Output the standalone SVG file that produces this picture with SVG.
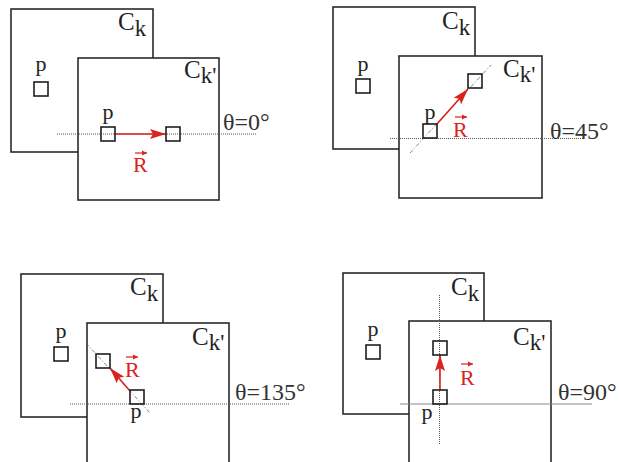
<svg xmlns="http://www.w3.org/2000/svg" width="619" height="462" viewBox="0 0 619 462">
<defs>
<style>
.frame{fill:#fff;stroke:#2a2a2a;stroke-width:1.6}
.cell{fill:none;stroke:#1e1e1e;stroke-width:1.6}
.dot{fill:none;stroke:#555;stroke-width:1;stroke-dasharray:1 1}
.dash{fill:none;stroke:#666;stroke-width:0.8;stroke-dasharray:4 2 1 2}
.solid{fill:none;stroke:#888;stroke-width:1}
.vec{fill:none;stroke:#d9231d;stroke-width:1.6;marker-end:url(#head)}
.vsm{fill:none;stroke:#d9231d;stroke-width:1.2;marker-end:url(#shead)}
text{font-family:"Liberation Serif","Times New Roman",serif;fill:#222}
.lbl{font-size:25px}
.sub{font-size:23px}
.p{font-size:22px;text-anchor:middle}
.r{font-size:22px;fill:#d9231d}
.ang{font-size:24px;fill:#333}
</style>
<marker id="head" markerUnits="userSpaceOnUse" markerWidth="17" markerHeight="11" refX="16" refY="5" orient="auto" overflow="visible">
<path d="M0,0 L16,5 L0,10 L3,5 z" fill="#d9231d"/>
</marker>
<marker id="shead" markerUnits="userSpaceOnUse" markerWidth="6" markerHeight="5" refX="5" refY="2.5" orient="auto" overflow="visible">
<path d="M0,0 L5,2.5 L0,5 z" fill="#d9231d"/>
</marker>
</defs>

<!-- Panel 1: theta = 0 -->
<g id="p1-ck"><rect class="frame" x="11" y="9" width="142" height="143"/>
<text class="lbl" x="118" y="30">C<tspan class="sub" dy="6">k</tspan></text></g>
<g id="p1-ckp"><rect class="frame" x="78" y="58" width="141" height="142"/>
<text class="lbl" x="184" y="78">C<tspan class="sub" dy="5">k'</tspan></text></g>
<g id="p1-pback"><rect class="cell" x="34" y="82" width="14" height="14"/><text class="p" x="41" y="71">p</text></g>
<g id="p1-connectors">
<line class="dot" x1="57" y1="134" x2="257" y2="134"/>
<line class="vec" x1="115" y1="134" x2="166" y2="134"/>
</g>
<g id="p1-pstart"><rect class="cell" x="101" y="127" width="14" height="14"/><text class="p" x="108" y="119">p</text></g>
<g id="p1-pend"><rect class="cell" x="166" y="127" width="14" height="14"/></g>
<g id="p1-r"><text class="r" x="133" y="172">R</text><line class="vsm" x1="135" y1="153" x2="147" y2="153"/></g>
<text class="ang" x="223" y="130">θ=0°</text>

<!-- Panel 2: theta = 45 -->
<g id="p2-ck"><rect class="frame" x="333" y="7" width="142" height="142"/>
<text class="lbl" x="442" y="29">C<tspan class="sub" dy="6">k</tspan></text></g>
<g id="p2-ckp"><rect class="frame" x="399" y="56" width="143" height="142"/>
<text class="lbl" x="503" y="77">C<tspan class="sub" dy="5">k'</tspan></text></g>
<g id="p2-pback"><rect class="cell" x="356" y="79" width="14" height="14"/><text class="p" x="363" y="71">p</text></g>
<g id="p2-connectors">
<line class="dot" x1="390" y1="138.5" x2="583" y2="138.5"/>
<line class="dash" x1="410" y1="153" x2="491" y2="65"/>
<line class="vec" x1="437" y1="124" x2="468" y2="89"/>
</g>
<g id="p2-pstart"><rect class="cell" x="423" y="124" width="14" height="14"/><text class="p" x="430" y="119">p</text></g>
<g id="p2-pend"><rect class="cell" x="468" y="74" width="14" height="14"/></g>
<g id="p2-r"><text class="r" x="453" y="137">R</text><line class="vsm" x1="455" y1="117" x2="467" y2="117"/></g>
<text class="ang" x="550" y="139">θ=45°</text>

<!-- Panel 3: theta = 135 -->
<g id="p3-ck"><rect class="frame" x="21" y="274" width="142" height="143"/>
<text class="lbl" x="130" y="295">C<tspan class="sub" dy="6">k</tspan></text></g>
<g id="p3-ckp"><rect class="frame" x="87" y="323" width="142" height="150"/>
<text class="lbl" x="192" y="345">C<tspan class="sub" dy="5">k'</tspan></text></g>
<g id="p3-pback"><rect class="cell" x="54" y="347" width="14" height="14"/><text class="p" x="61" y="338">p</text></g>
<g id="p3-connectors">
<line class="dot" x1="70" y1="404" x2="290" y2="404"/>
<line class="dash" x1="86" y1="343" x2="150" y2="413"/>
<line class="vec" x1="130" y1="391" x2="110" y2="368"/>
</g>
<g id="p3-pend"><rect class="cell" x="96" y="354" width="14" height="14"/></g>
<g id="p3-pstart"><rect class="cell" x="130" y="390" width="14" height="14"/><text class="p" x="136" y="418">p</text></g>
<g id="p3-r"><text class="r" x="125" y="377">R</text><line class="vsm" x1="126" y1="357" x2="138" y2="357"/></g>
<text class="ang" x="235" y="400">θ=135°</text>

<!-- Panel 4: theta = 90 -->
<g id="p4-ck"><rect class="frame" x="343" y="273" width="141" height="141"/>
<text class="lbl" x="451" y="295">C<tspan class="sub" dy="6">k</tspan></text></g>
<g id="p4-ckp"><rect class="frame" x="409" y="321" width="142" height="150"/>
<text class="lbl" x="513" y="345">C<tspan class="sub" dy="5">k'</tspan></text></g>
<g id="p4-pback"><rect class="cell" x="366" y="345" width="14" height="14"/><text class="p" x="373" y="336">p</text></g>
<g id="p4-connectors">
<line class="solid" x1="400" y1="404" x2="592" y2="404"/>
<line class="dot" x1="439.5" y1="295" x2="439.5" y2="445"/>
<line class="vec" x1="440" y1="390" x2="440" y2="355"/>
</g>
<g id="p4-pend"><rect class="cell" x="433" y="341" width="14" height="14"/></g>
<g id="p4-pstart"><rect class="cell" x="433" y="390" width="14" height="14"/><text class="p" x="427" y="419">p</text></g>
<g id="p4-r"><text class="r" x="460" y="385">R</text><line class="vsm" x1="461" y1="364" x2="473" y2="364"/></g>
<text class="ang" x="558" y="400">θ=90°</text>
</svg>
